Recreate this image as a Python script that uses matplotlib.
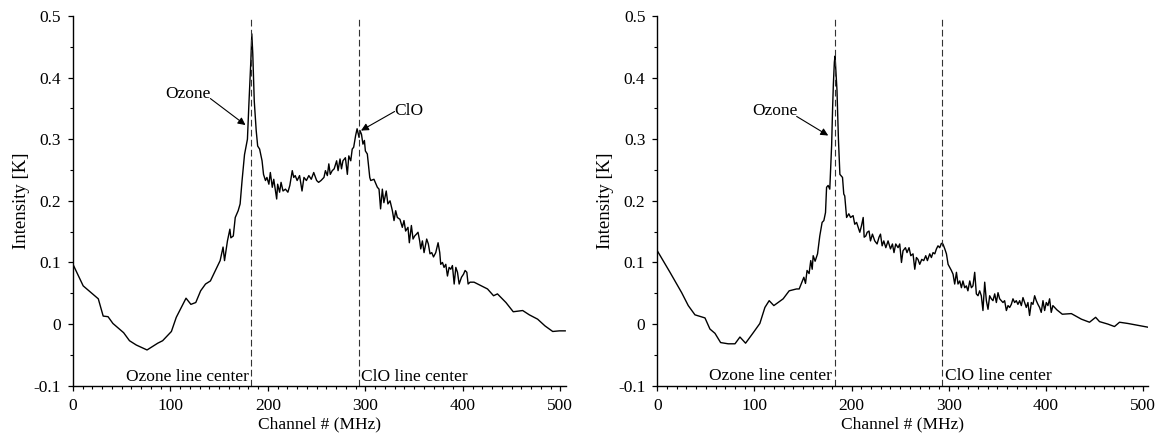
"""Two spectra of ozone / ClO line emission, channel vs intensity."""

import matplotlib
matplotlib.use("Agg")
import matplotlib.pyplot as plt
from matplotlib.ticker import MultipleLocator

plt.rcParams["font.family"] = ["Liberation Serif", "DejaVu Serif"]
plt.rcParams["font.size"] = 12.5

# line centres (channel #)
OZONE_CENTER = 182.5
CLO_CENTER = 293

# left spectrum
left_channel = [
    0, 10.5, 26, 31, 36, 41, 52, 58, 65, 76, 87, 92, 101, 106, 116, 121, 126,
    131, 136, 141, 151, 154, 155.5, 158.5, 161, 162, 164.5, 166.5, 169.5,
    171.5, 173.5, 176, 179, 180.5, 182.5, 183.5, 184.5, 186, 188, 189.5,
    191.5, 194, 195.5, 197.5, 199, 201, 202.5, 204.5, 206, 209, 210, 212,
    213.5, 215.5, 218, 220.5, 222.5, 225, 226.5, 228, 230, 232.5, 235, 237,
    239.5, 242, 244.5, 247, 250, 252, 254.5, 257.5, 259, 261, 262.5, 264,
    266, 268, 270.5, 272, 274, 275.5, 277, 279.5, 281.5, 283, 285, 286.5,
    288, 290, 291.5, 293.5, 294.5, 296, 297.5, 299, 300, 302, 303.5, 304.5,
    305.5, 308.8, 312.3, 314, 315, 315.6, 317.4, 319, 321.4, 323.1, 325.3,
    327.7, 329.4, 331.1, 332.8, 335.5, 337.9, 339.6, 341.3, 343.7, 345.1,
    347.2, 348.9, 350.6, 352.4, 354, 355.7, 356.8, 358.5, 360.2, 362.9,
    364.6, 366.3, 368.1, 369.9, 372.2, 374.6, 376.3, 377.3, 379.1, 380.7,
    382.5, 384.2, 385.9, 387.6, 389.3, 391.1, 392.8, 394.5, 396.2, 398.6,
    400.7, 402.3, 404.1, 405.4, 407.4, 411.5, 425.3, 431.5, 435.5, 444.2,
    451.7, 461.4, 468.2, 476.7, 484.3, 492.2, 499, 505,
]
left_intensity = [
    0.097, 0.062, 0.041, 0.013, 0.012, 0.001, -0.014, -0.027, -0.034, -0.042,
    -0.031, -0.027, -0.012, 0.011, 0.042, 0.032, 0.035, 0.054, 0.065, 0.070,
    0.103, 0.125, 0.103, 0.135, 0.154, 0.140, 0.143, 0.173, 0.184, 0.195,
    0.233, 0.275, 0.300, 0.357, 0.427, 0.471, 0.438, 0.362, 0.314, 0.289,
    0.284, 0.265, 0.243, 0.233, 0.238, 0.227, 0.246, 0.222, 0.235, 0.203,
    0.227, 0.214, 0.230, 0.216, 0.219, 0.214, 0.225, 0.249, 0.238, 0.241,
    0.233, 0.241, 0.216, 0.238, 0.233, 0.241, 0.235, 0.246, 0.233, 0.230,
    0.233, 0.238, 0.249, 0.241, 0.260, 0.243, 0.249, 0.252, 0.265, 0.249,
    0.268, 0.252, 0.265, 0.270, 0.243, 0.273, 0.265, 0.284, 0.287, 0.306,
    0.317, 0.303, 0.314, 0.308, 0.292, 0.298, 0.281, 0.276, 0.254, 0.238,
    0.233, 0.235, 0.222, 0.219, 0.200, 0.187, 0.219, 0.197, 0.216, 0.195,
    0.200, 0.184, 0.168, 0.184, 0.173, 0.170, 0.157, 0.168, 0.151, 0.157,
    0.132, 0.160, 0.138, 0.143, 0.146, 0.149, 0.135, 0.122, 0.135, 0.116,
    0.138, 0.130, 0.114, 0.116, 0.109, 0.116, 0.132, 0.116, 0.097, 0.100,
    0.092, 0.097, 0.078, 0.092, 0.089, 0.095, 0.065, 0.092, 0.084, 0.065,
    0.076, 0.081, 0.087, 0.084, 0.065, 0.068, 0.068, 0.057, 0.046, 0.049,
    0.035, 0.020, 0.022, 0.015, 0.008, -0.003, -0.012, -0.011, -0.011,
]

# right spectrum
right_channel = [
    0, 13.1, 25.1, 31.9, 38.8, 49.1, 54.2, 59.4, 65.2, 73, 80, 85.1, 90.9,
    98.8, 105.6, 110.8, 115.2, 120, 129.6, 135.8, 143.3, 146.1, 150.9, 152.6,
    154.2, 156.3, 158, 159.5, 160.5, 162.5, 165, 167.3, 169.7, 171.5, 173.2,
    174.3, 175.9, 177.6, 179.5, 180.5, 181.3, 182.3, 183, 185, 186.5, 188,
    190.7, 192, 193, 194.9, 197.2, 199, 201.6, 203.3, 205.2, 206.8, 208.5,
    210.3, 212, 213, 214.7, 216.1, 218, 219.5, 221.5, 223.9, 226.3, 228.3,
    229.8, 231.5, 233.2, 235.3, 237.6, 240.1, 242.1, 243.7, 245.5, 247.9,
    249.6, 251.4, 253, 255.5, 257.1, 259.2, 261, 263.3, 265.1, 266.8, 268.4,
    270.2, 272.3, 274.3, 276.4, 278.1, 280.5, 282.2, 283.9, 285.7, 287.4,
    289, 290.8, 292.5, 294.1, 296, 297.7, 299.4, 301.1, 302.8, 304.5, 306.2,
    308, 309.6, 311.4, 313.1, 314.7, 316.5, 318.2, 319.8, 321.7, 323.4, 325,
    326.8, 328.5, 330.2, 331.9, 333.6, 335.3, 337.1, 338.8, 340.5, 342.2,
    343.9, 345.6, 347.4, 349.1, 350.8, 352.5, 354.2, 355.9, 357.6, 359.4,
    361.1, 362.8, 364.5, 366.2, 367.9, 369.6, 371.3, 373.1, 374.8, 376.5,
    378.2, 379.9, 381.6, 383.3, 385.1, 386.8, 388.5, 390.2, 391.9, 393.6,
    395.3, 397.1, 398.8, 400.5, 402.2, 403.9, 405.6, 407.3, 411.5, 417,
    426.3, 436.6, 445, 451.3, 455.3, 463.9, 470.7, 475.9, 484.5, 494.7, 505,
]
right_intensity = [
    0.119, 0.084, 0.051, 0.030, 0.015, 0.010, -0.008, -0.015, -0.030, -0.032,
    -0.032, -0.021, -0.031, -0.014, 0.001, 0.027, 0.038, 0.030, 0.041, 0.054,
    0.057, 0.057, 0.076, 0.066, 0.087, 0.082, 0.103, 0.089, 0.111, 0.102,
    0.114, 0.143, 0.165, 0.168, 0.181, 0.222, 0.225, 0.219, 0.290, 0.350,
    0.390, 0.425, 0.435, 0.380, 0.300, 0.243, 0.238, 0.211, 0.208, 0.173,
    0.179, 0.173, 0.176, 0.162, 0.165, 0.157, 0.149, 0.160, 0.173, 0.141,
    0.143, 0.149, 0.151, 0.135, 0.146, 0.135, 0.130, 0.141, 0.146, 0.127,
    0.135, 0.124, 0.135, 0.122, 0.130, 0.116, 0.130, 0.124, 0.130, 0.100,
    0.119, 0.124, 0.116, 0.124, 0.111, 0.114, 0.089, 0.108, 0.105, 0.097,
    0.105, 0.103, 0.111, 0.103, 0.114, 0.108, 0.116, 0.114, 0.122, 0.127,
    0.124, 0.131, 0.130, 0.122, 0.114, 0.097, 0.092, 0.087, 0.081, 0.065,
    0.084, 0.065, 0.070, 0.059, 0.070, 0.059, 0.062, 0.054, 0.070, 0.059,
    0.062, 0.084, 0.049, 0.046, 0.054, 0.046, 0.022, 0.068, 0.038, 0.024,
    0.046, 0.041, 0.038, 0.049, 0.035, 0.051, 0.041, 0.038, 0.035, 0.038,
    0.022, 0.030, 0.027, 0.032, 0.041, 0.035, 0.038, 0.032, 0.038, 0.030,
    0.043, 0.035, 0.027, 0.035, 0.014, 0.035, 0.032, 0.046, 0.038, 0.032,
    0.027, 0.019, 0.038, 0.022, 0.035, 0.030, 0.041, 0.019, 0.030, 0.023,
    0.016, 0.017, 0.008, 0.003, 0.011, 0.004, 0.000, -0.004, 0.003, 0.001,
    -0.002, -0.005,
]


def style_axes(ax):
    """Times-like axes with only left and bottom spines."""
    for side in ("top", "right"):
        ax.spines[side].set_visible(False)
    for side in ("left", "bottom"):
        ax.spines[side].set_linewidth(1.0)
    ax.set_xlim(0, 505.5)
    ax.set_ylim(-0.1, 0.5)
    ax.xaxis.set_major_locator(MultipleLocator(100))
    ax.xaxis.set_minor_locator(MultipleLocator(10))
    ax.yaxis.set_major_locator(MultipleLocator(0.1))
    ax.yaxis.set_minor_locator(MultipleLocator(0.05))
    ax.yaxis.set_major_formatter(
        plt.FuncFormatter(lambda v, _: "0" if abs(v) < 1e-9 else f"{v:.1f}")
    )
    ax.tick_params(which="major", direction="out", length=3.5, width=0.9, labelsize=12.5)
    ax.tick_params(which="minor", direction="out", length=2.0, width=0.8)
    ax.tick_params(axis="x", which="major", pad=5)
    ax.tick_params(axis="y", which="major", pad=5)
    ax.set_xlabel("Channel # (MHz)", fontsize=12.5, labelpad=2)
    ax.set_ylabel("Intensity [K]", fontsize=13.5, labelpad=3)


def draw_centers(ax, ozone_text_y, clo_text_y):
    for center in (OZONE_CENTER, CLO_CENTER):
        ax.axvline(center, color="#333333", lw=0.8, linestyle=(0, (6, 3)))
    ax.text(OZONE_CENTER - 2.5, ozone_text_y, "Ozone line center",
            ha="right", va="center", fontsize=12.5)
    ax.text(CLO_CENTER + 3, clo_text_y, "ClO line center",
            ha="left", va="center", fontsize=12.5)


def arrow(ax, head, tail):
    ax.annotate("", xy=head, xytext=tail,
                arrowprops=dict(arrowstyle="-|>", color="black", lw=0.8,
                                mutation_scale=11, shrinkA=0, shrinkB=0))


fig = plt.figure(figsize=(11.58, 4.38), dpi=100)
ax_left = fig.add_axes([0.0630, 0.1194, 0.4255, 0.8441])
ax_right = fig.add_axes([0.5676, 0.1194, 0.4240, 0.8441])

ax_left.plot(left_channel, left_intensity, color="black", lw=1.0)
style_axes(ax_left)
draw_centers(ax_left, -0.0855, -0.0855)
ax_left.text(118, 0.373, "Ozone", ha="center", va="center", fontsize=12.5)
arrow(ax_left, (177, 0.323), (141, 0.366))
ax_left.text(345, 0.345, "ClO", ha="center", va="center", fontsize=12.5)
arrow(ax_left, (295.5, 0.314), (330, 0.345))

ax_right.plot(right_channel, right_intensity, color="black", lw=1.0)
style_axes(ax_right)
draw_centers(ax_right, -0.084, -0.084)
ax_right.text(121, 0.346, "Ozone", ha="center", va="center", fontsize=12.5)
arrow(ax_right, (176, 0.306), (143.5, 0.337))

fig.savefig("out.png", dpi=100)
